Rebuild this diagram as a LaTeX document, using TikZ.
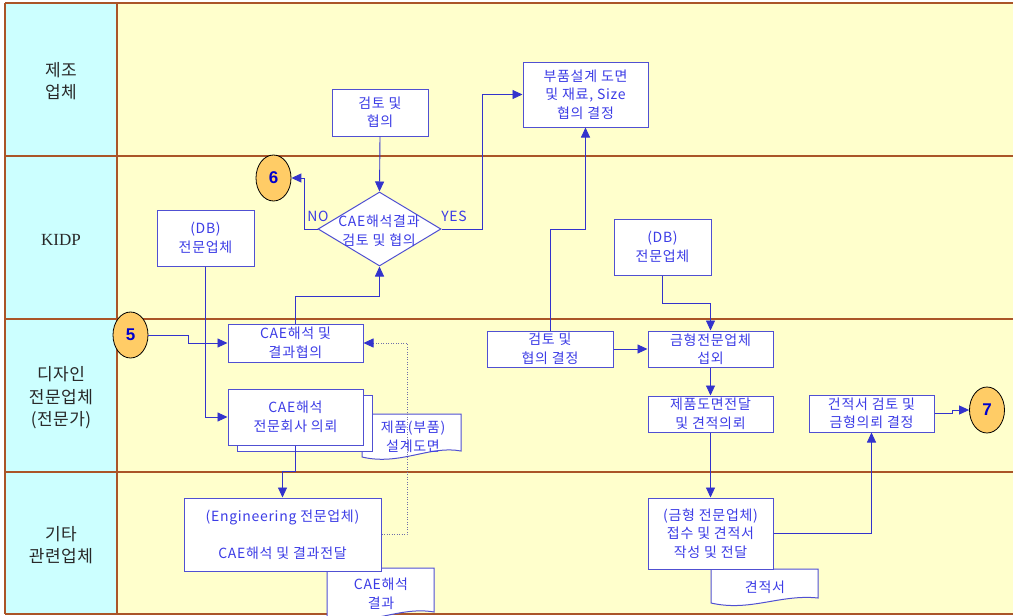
\documentclass[tikz,border=0pt]{standalone}
\usepackage{fontspec}
\setmainfont{Noto Sans CJK KR}
\newfontfamily\boxfont[LetterSpace=5]{Noto Sans CJK KR}
\newfontfamily\headfont[LetterSpace=3]{Noto Sans CJK KR}
\newfontfamily\latinserif{Liberation Serif}
\newfontfamily\numfont{Liberation Sans}
\usetikzlibrary{arrows.meta,shapes.geometric}

\definecolor{headcol}{RGB}{204,255,255}
\definecolor{lanecol}{RGB}{255,255,204}
\definecolor{lanerule}{RGB}{170,85,40}
\definecolor{boxcol}{RGB}{80,80,210}
\definecolor{txtcol}{RGB}{60,60,230}
\definecolor{flowcol}{RGB}{51,51,204}
\definecolor{dotcol}{RGB}{110,110,170}
\definecolor{badge}{RGB}{255,204,102}
\definecolor{badgetxt}{RGB}{0,0,204}
\definecolor{headtxt}{RGB}{40,40,40}

\tikzset{
  laneline/.style={draw=lanerule, line width=1.6pt},
  procbox/.style={draw=boxcol, line width=1pt, fill=white, text=txtcol,
    font=\boxfont\fontsize{14}{18.5}\selectfont, align=center, inner sep=0pt},
  boxtext/.style={text=txtcol, font=\boxfont\fontsize{14}{18.5}\selectfont, align=center, inner sep=0pt},
  decision/.style={diamond, draw=boxcol, line width=1pt, fill=white, inner sep=0pt},
  docshape/.style={draw=boxcol, line width=1pt, fill=white},
  badgenode/.style={ellipse, draw=black, line width=0.8pt, fill=badge, text=badgetxt,
    font=\numfont\bfseries\fontsize{17}{18}\selectfont, inner sep=0pt,
    minimum width=35pt, minimum height=46pt},
  lanehead/.style={text=headtxt, font=\headfont\fontsize{17}{22.5}\selectfont, align=center},
  flow/.style={draw=flowcol, line width=0.9pt, -{Triangle[length=10pt,width=9pt]}},
  dotflow/.style={draw=dotcol, line width=0.8pt, dash pattern=on 1pt off 1.5pt,
    -{Triangle[length=10pt,width=9pt,color=flowcol]}},
  tag/.style={text=txtcol, font=\boxfont\fontsize{14}{15}\selectfont, inner sep=0pt}
}

\begin{document}
\begin{tikzpicture}[x=1pt,y=-1pt]
\useasboundingbox (0,0) rectangle (1013,616);
\fill[white] (0,0) rectangle (1013,616);

% swim lanes
\fill[headcol] (5,3) rectangle (117,614);
\fill[lanecol] (117,3) rectangle (1013,614);
\foreach \yy in {3,156,319,472,614}{\draw[laneline] (5,\yy) -- (1013,\yy);}
\draw[laneline] (5,3) -- (5,614);
\draw[laneline] (117,3) -- (117,614);

\node[lanehead] (h1) at (61,81) {제조\\업체};
\node[lanehead, font=\latinserif\fontsize{17}{20}\selectfont] (h2) at (61,240) {KIDP};
\node[lanehead] (h3) at (61,398) {디자인\\전문업체\\(전문가)};
\node[lanehead] (h4) at (61,545) {기타\\관련업체};

% documents (behind the boxes)
\draw[docshape] (362,414) -- (461,414) -- (461,451)
  .. controls (430,445) and (400,466) .. (362,457) -- cycle;
\node[boxtext] (doc1) at (413,437) {제품(부품)\\설계도면};

\draw[docshape] (327,568) -- (434,568) -- (434,612)
  .. controls (400,606) and (370,626) .. (327,620) -- cycle;
\node[boxtext] (doc2) at (381,594) {CAE해석\\결과};

\draw[docshape] (711,569) -- (818,569) -- (818,598)
  .. controls (780,594) and (750,612) .. (711,603) -- cycle;
\node[boxtext] (doc3) at (765,587) {견적서};

% process boxes
\node[procbox, minimum width=96pt, minimum height=47pt] (rev1) at (380,112.5) {검토 및\\협의};
\node[procbox, minimum width=125pt, minimum height=65pt] (part) at (585.5,94.5) {부품설계 도면\\및 재료, Size\\협의 결정};
\node[decision, minimum width=123pt, minimum height=74pt] (dec) at (379.5,229) {};
\node[boxtext] (dectxt) at (379,231) {CAE해석결과\\검토 및 협의};
\node[badgenode] (c6) at (273.5,178) {6};
\node[procbox, minimum width=97pt, minimum height=56pt] (db1) at (205.5,238) {(DB)\\전문업체};
\node[badgenode] (c5) at (130.5,335) {5};
\node[procbox, minimum width=135pt, minimum height=38pt] (cae1) at (295.5,343) {CAE해석 및\\결과협의};
\node[procbox, minimum width=135pt, minimum height=56pt] (cae2back) at (304.5,423.5) {};
\node[procbox, minimum width=135pt, minimum height=56pt] (cae2) at (295.5,417) {CAE해석\\전문회사 의뢰};
\node[procbox, minimum width=197pt, minimum height=73pt] (eng) at (282.5,534.5) {(Engineering 전문업체)\\[18.5pt]CAE해석 및 결과전달};
\node[procbox, minimum width=97pt, minimum height=56pt] (db2) at (662.5,247) {(DB)\\전문업체};
\node[procbox, minimum width=126pt, minimum height=36pt] (rev2) at (550,349) {검토 및\\협의 결정};
\node[procbox, minimum width=125pt, minimum height=36pt] (mold1) at (710.5,349) {금형전문업체\\섭외};
\node[procbox, minimum width=125pt, minimum height=36pt] (mold2) at (710.5,414) {제품도면전달\\및 견적의뢰};
\node[procbox, minimum width=125pt, minimum height=71pt] (mold3) at (710.5,533.5) {(금형 전문업체)\\접수 및 견적서\\작성 및 전달};
\node[procbox, minimum width=125pt, minimum height=37pt] (est) at (871.5,413.5) {건적서 검토 및\\금형의뢰 결정};
\node[badgenode] (c7) at (987,410) {7};

% connectors
\draw[flow] (rev1.south) -- (dec.north);
\draw[flow] (dec.west) -- (304,229) |- (c6.east);
\draw[flow] (dec.east) -- (482,229) |- (part.west);
\node[tag] (no) at (318,216) {NO};
\node[tag] (yes) at (454,216) {YES};
\draw[flow] (db1.south) |- (cae2.west);
\draw[flow] (c5.east) -- (188,335) |- (cae1.west);
\draw[flow] (cae1.north) -- (295.5,296) -| (dec.south);
\draw[dotflow] (eng.east) -- (407,534.5) |- (cae1.east);
\draw[flow] (cae2.south) -- (295.5,471) -| (eng.north);
\draw[flow] (db2.south) -- (662.5,303) -| (mold1.north);
\draw[flow] (rev2.east) -- (mold1.west);
\draw[flow] (rev2.north) -- (550,229) -| (part.south);
\draw[flow] (mold1.south) -- (mold2.north);
\draw[flow] (mold2.south) -- (mold3.north);
\draw[flow] (mold3.east) -| (est.south);
\draw[flow] (est.east) -- (952,413.5) -- (952,410) -- (c7.west);
\end{tikzpicture}
\end{document}
